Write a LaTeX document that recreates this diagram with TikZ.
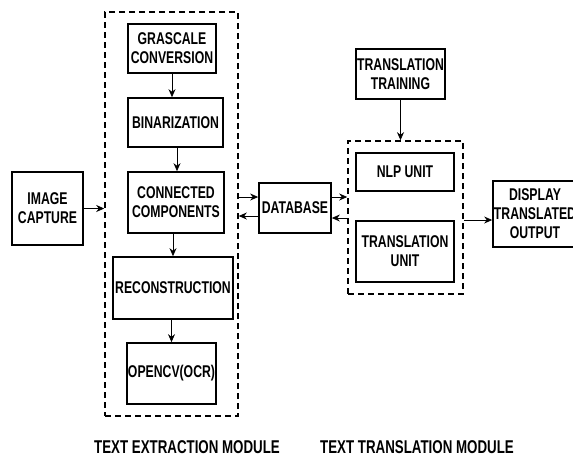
\documentclass[tikz,border=0pt]{standalone}
\usepackage{fontspec}
\setmainfont{Liberation Sans}[FakeStretch=0.72]
\usetikzlibrary{arrows.meta}
\tikzset{
  blk/.style={draw, line width=1.7pt, align=center, font=\fontsize{17}{19}\selectfont\bfseries, inner sep=0pt},
  grp/.style={draw, line width=1.6pt, dash pattern=on 6pt off 4pt, inner sep=0pt},
  arr/.style={line width=0.8pt, -{Stealth[length=8pt,width=7pt]}},
  captxt/.style={font=\fontsize{18.5}{20}\selectfont\bfseries},
}
\begin{document}
\begin{tikzpicture}[x=1pt,y=-1pt]
\useasboundingbox (0,0) rectangle (573,456);
\clip (0,0) rectangle (573,456);
\fill[white] (0,0) rectangle (573,456);
% groups
\node[grp, minimum width=133pt, minimum height=404pt] (ext) at (171.5,214) {};
\node[grp, minimum width=115pt, minimum height=153pt] (tu) at (405.5,217.5) {};
% blocks
\node[blk, minimum width=88pt, minimum height=49pt] (gray) at (172,48.5) {GRASCALE\\CONVERSION};
\node[blk, minimum width=95pt, minimum height=49pt] (bin) at (175.5,122.5) {BINARIZATION};
\node[blk, minimum width=96pt, minimum height=61pt] (conn) at (176,202.5) {CONNECTED\\COMPONENTS};
\node[blk, minimum width=71pt, minimum height=73pt] (img) at (47.5,208.5) {IMAGE\\CAPTURE};
\node[blk, minimum width=120pt, minimum height=62pt] (rec) at (173,288) {RECONSTRUCTION};
\node[blk, minimum width=89pt, minimum height=61pt] (ocr) at (171.5,373.5) {OPENCV(OCR)};
\node[blk, minimum width=72pt, minimum height=50pt] (db) at (295,208) {DATABASE};
\node[blk, minimum width=89pt, minimum height=50pt] (train) at (400.5,74) {TRANSLATION\\TRAINING};
\node[blk, minimum width=98pt, minimum height=38pt] (nlp) at (405,172) {NLP UNIT};
\node[blk, minimum width=98pt, minimum height=61pt] (tru) at (405,251.5) {TRANSLATION\\UNIT};
\node[blk, minimum width=84pt, minimum height=66pt] (disp) at (535,214) {DISPLAY\\TRANSLATED\\OUTPUT};
% captions
\node[captxt] (c1) at (187,447) {TEXT EXTRACTION MODULE};
\node[captxt] (c2) at (417,447) {TEXT TRANSLATION MODULE};
% vertical arrows
\draw[arr] (gray.south) -- (gray.south |- bin.north);
\draw[arr] ([xshift=1.5pt]bin.south) -- ([xshift=1.5pt]bin.south |- conn.north);
\draw[arr] ([xshift=-3pt]conn.south) -- ([xshift=-3pt]conn.south |- rec.north);
\draw[arr] (ocr.north |- rec.south) -- (ocr.north);
\draw[arr] (train.south) -- (train.south |- tu.north);
% horizontal arrows
\draw[arr] (img.east) -- (img.east -| ext.west);
\coordinate (a1) at ([yshift=11pt]db.west);
\coordinate (a2) at ([yshift=-8pt]db.west);
\coordinate (a3) at ([yshift=11pt]db.east);
\coordinate (a4) at ([yshift=-10pt]db.east);
\coordinate (b1) at ([yshift=-6pt]disp.west);
\draw[arr] (a1 -| ext.east) -- (a1);
\draw[arr] (a2) -- (a2 -| ext.east);
\draw[arr] (a3) -- (a3 -| tu.west);
\draw[arr] (a4 -| tu.west) -- (a4);
\draw[arr] (b1 -| tu.east) -- (b1);
\end{tikzpicture}
\end{document}
